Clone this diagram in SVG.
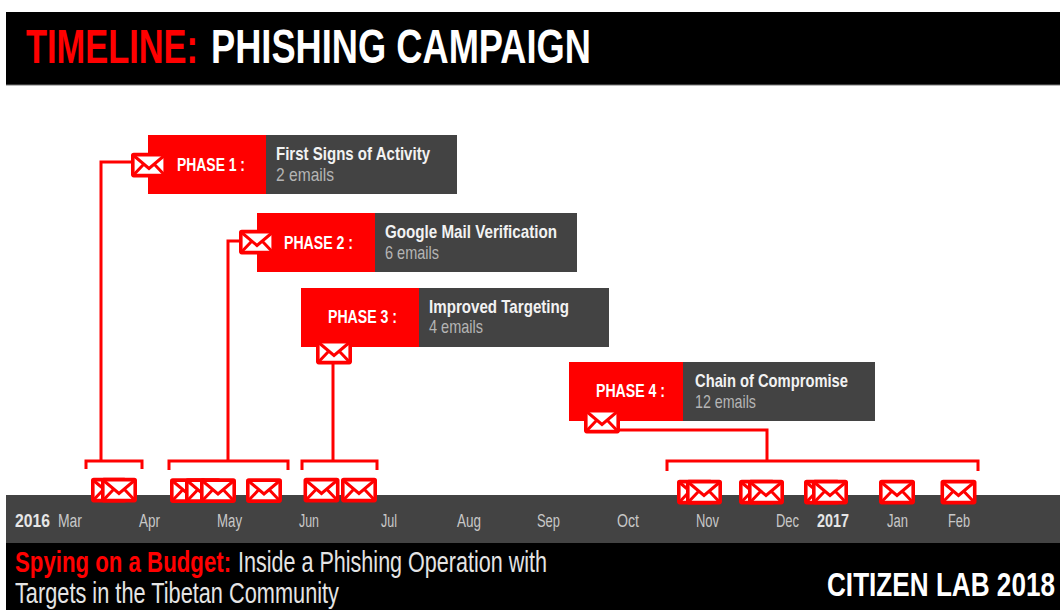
<svg xmlns="http://www.w3.org/2000/svg" width="1060" height="610" viewBox="0 0 1060 610">
<style>
text{font-family:"Liberation Sans",Arial,sans-serif}
.b{font-weight:700}
.w{fill:#fff}.r{fill:#f00}.s{fill:#e4e4e4}
.t{font-size:49px;font-weight:700}
.ph{font-size:18px;font-weight:700;fill:#fff}
.h{font-size:19px;font-weight:700;fill:#f2f2f2}
.n{font-size:19px;fill:#b5b5b5}
.m{font-size:18px;fill:#c8c8c8}
.y{font-size:18px;font-weight:700;fill:#e6e6e6}
.f{font-size:29px}
.line{fill:none;stroke:#f00;stroke-width:3}
.red{fill:#f00}.dark{fill:#434343}
.ebox{fill:#fff;stroke:#f00;stroke-width:3.6;stroke-linejoin:round}
.eline{fill:none;stroke:#f00;stroke-width:3}
</style>
<defs>
<g id="env">
<rect class="ebox" x="-16.2" y="-10.4" width="32.4" height="21" rx="1"/>
<path class="eline" d="M-16 -10L0 3.5L16 -10M-16 10.5L-6 0M16 10.5L6 0"/>
</g>
</defs>
<rect width="1060" height="610" fill="#fff"/>
<g id="header">
<rect x="6" y="12" width="1054" height="73" fill="#000"/>
<rect x="6" y="84.5" width="1054" height="1" fill="#777"/>
<text class="t r" transform="matrix(.7 0 0 1 26 63)" textLength="245.7" lengthAdjust="spacingAndGlyphs">TIMELINE:</text>
<text class="t w" transform="matrix(.735 0 0 1 211 63)" textLength="517" lengthAdjust="spacingAndGlyphs">PHISHING CAMPAIGN</text>
</g>
<g id="timeline-band">
<rect x="6" y="495" width="1054" height="48" fill="#434343"/>
<text class="y" x="15" y="527" textLength="35" lengthAdjust="spacingAndGlyphs">2016</text>
<text class="m" x="58" y="527" textLength="24" lengthAdjust="spacingAndGlyphs">Mar</text>
<text class="m" x="139" y="527" textLength="21" lengthAdjust="spacingAndGlyphs">Apr</text>
<text class="m" x="217" y="527" textLength="25" lengthAdjust="spacingAndGlyphs">May</text>
<text class="m" x="299" y="527" textLength="20" lengthAdjust="spacingAndGlyphs">Jun</text>
<text class="m" x="381" y="527" textLength="16" lengthAdjust="spacingAndGlyphs">Jul</text>
<text class="m" x="457" y="527" textLength="24" lengthAdjust="spacingAndGlyphs">Aug</text>
<text class="m" x="537" y="527" textLength="23" lengthAdjust="spacingAndGlyphs">Sep</text>
<text class="m" x="617" y="527" textLength="22" lengthAdjust="spacingAndGlyphs">Oct</text>
<text class="m" x="696" y="527" textLength="23" lengthAdjust="spacingAndGlyphs">Nov</text>
<text class="m" x="776" y="527" textLength="23" lengthAdjust="spacingAndGlyphs">Dec</text>
<text class="y" x="817" y="527" textLength="32" lengthAdjust="spacingAndGlyphs">2017</text>
<text class="m" x="887" y="527" textLength="21" lengthAdjust="spacingAndGlyphs">Jan</text>
<text class="m" x="948" y="527" textLength="22" lengthAdjust="spacingAndGlyphs">Feb</text>
</g>
<g id="footer">
<rect x="6" y="543" width="1054" height="67" fill="#000"/>
<text class="f r b" transform="matrix(.78 0 0 1 15 572)" textLength="277" lengthAdjust="spacingAndGlyphs">Spying on a Budget:</text>
<text class="f s" transform="matrix(.75 0 0 1 238 572)" textLength="412" lengthAdjust="spacingAndGlyphs">Inside a Phishing Operation with</text>
<text class="f s" transform="matrix(.75 0 0 1 15 603)" textLength="432" lengthAdjust="spacingAndGlyphs">Targets in the Tibetan Community</text>
<text class="w b" font-size="34" transform="matrix(.76 0 0 1 827 596)" textLength="300" lengthAdjust="spacingAndGlyphs">CITIZEN LAB 2018</text>
</g>
<g id="connectors">
<path class="line" d="M133 162H101V461"/>
<path class="line" d="M241 241H228V461"/>
<path class="line" d="M333 360V461"/>
<path class="line" d="M617 430H767V461"/>
<path class="line" d="M86 469V461H142V469"/>
<path class="line" d="M169 470V461H288V470"/>
<path class="line" d="M302 470V461H377V470"/>
<path class="line" d="M667 471V461H978V471"/>
</g>
<g id="phase-1">
<rect class="red" x="148" y="135" width="118" height="59"/>
<rect class="dark" x="266" y="135" width="191" height="59"/>
<text class="ph" x="177" y="171" textLength="68" lengthAdjust="spacingAndGlyphs">PHASE 1 :</text>
<text class="h" x="276" y="160" textLength="154" lengthAdjust="spacingAndGlyphs">First Signs of Activity</text>
<text class="n" x="276" y="181" textLength="58" lengthAdjust="spacingAndGlyphs">2  emails</text>
<use href="#env" x="149" y="165"/>
</g>
<g id="phase-2">
<rect class="red" x="257" y="213" width="118" height="59"/>
<rect class="dark" x="375" y="213" width="202" height="59"/>
<text class="ph" x="284" y="249" textLength="69" lengthAdjust="spacingAndGlyphs">PHASE 2 :</text>
<text class="h" x="385" y="238" textLength="172" lengthAdjust="spacingAndGlyphs">Google Mail Verification</text>
<text class="n" x="385" y="259" textLength="54" lengthAdjust="spacingAndGlyphs">6 emails</text>
<use href="#env" x="257" y="242"/>
</g>
<g id="phase-3">
<rect class="red" x="301" y="288" width="118" height="59"/>
<rect class="dark" x="419" y="288" width="190" height="59"/>
<text class="ph" x="328" y="323" textLength="69" lengthAdjust="spacingAndGlyphs">PHASE 3 :</text>
<text class="h" x="429" y="313" textLength="140" lengthAdjust="spacingAndGlyphs">Improved Targeting</text>
<text class="n" x="429" y="333" textLength="54" lengthAdjust="spacingAndGlyphs">4 emails</text>
<use href="#env" x="334" y="352"/>
</g>
<g id="phase-4">
<rect class="red" x="569" y="362" width="114" height="59"/>
<rect class="dark" x="683" y="362" width="192" height="59"/>
<text class="ph" x="596" y="397" textLength="69" lengthAdjust="spacingAndGlyphs">PHASE 4 :</text>
<text class="h" x="695" y="387" textLength="153" lengthAdjust="spacingAndGlyphs">Chain of Compromise</text>
<text class="n" x="695" y="408" textLength="61" lengthAdjust="spacingAndGlyphs">12 emails</text>
<use href="#env" x="602" y="421"/>
</g>
<g id="emails">
<use href="#env" x="109" y="490"/><use href="#env" x="119" y="490"/>
<use href="#env" x="188" y="490.500"/><use href="#env" x="203" y="490.500"/><use href="#env" x="218" y="490.500"/>
<use href="#env" x="264" y="490.500"/>
<use href="#env" x="321.500" y="490"/><use href="#env" x="359" y="490"/>
<use href="#env" x="695" y="492"/><use href="#env" x="704" y="492"/>
<use href="#env" x="757" y="492"/><use href="#env" x="766" y="492"/>
<use href="#env" x="822" y="492"/><use href="#env" x="830" y="492"/>
<use href="#env" x="897" y="492"/><use href="#env" x="958.500" y="492"/>
</g>
</svg>
